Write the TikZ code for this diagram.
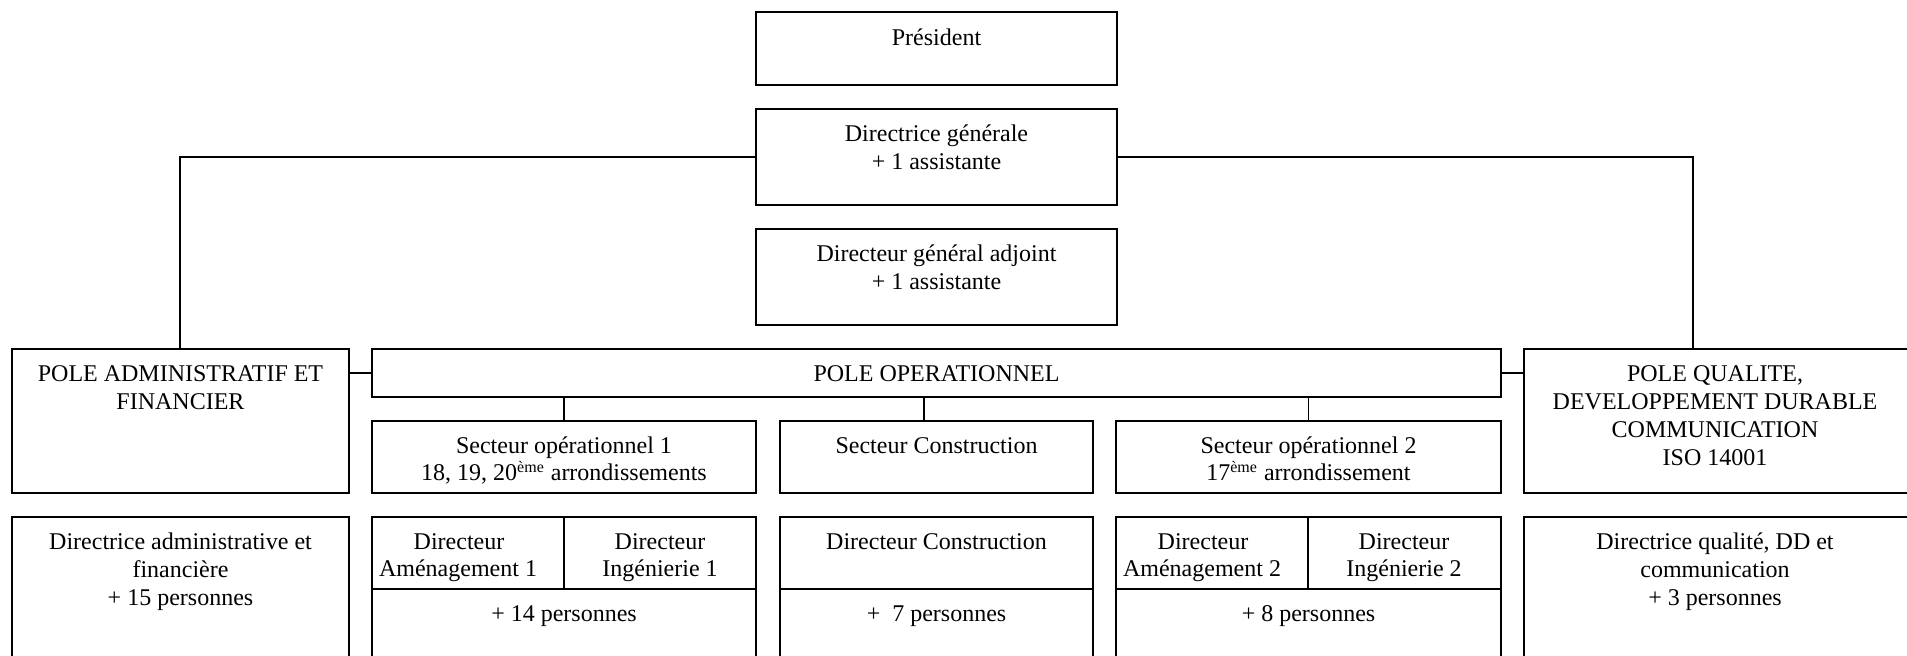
\documentclass[tikz,border=0pt]{standalone}
\usepackage{fontspec}
\setmainfont{Liberation Serif}
\newcommand\boxnode[5]{\node[box, minimum width={(#4-#2)*0.5pt}, minimum height={(#5-#3)*0.5pt}] (#1) at ({(#2+#4)/2},{(#3+#5)/2}) {};}
\newcommand\tline[4]{\node[txt] (#1) at (#2,#3) {#4};}
\begin{document}
\begin{tikzpicture}[x=0.5pt,y=-0.5pt,
  box/.style={draw, line width=1pt, inner sep=0pt, outer sep=0pt, rectangle},
  link/.style={draw, line width=0.75pt},
  txt/.style={anchor=base, inner sep=0pt, outer sep=0pt, font=\fontsize{12}{13.8}\selectfont}]
\clip (0,0) rectangle (1907,656);
% top boxes
\boxnode{pres}{756}{12}{1117}{85}
\boxnode{dg}{756}{109}{1117}{205}
\boxnode{dga}{756}{229}{1117}{325}
% poles
\boxnode{admin}{12}{349}{349}{493}
\boxnode{oper}{372}{349}{1501}{397}
\boxnode{qual}{1524}{349}{1930}{493}
% sectors
\boxnode{s1}{372}{421}{756}{493}
\boxnode{sc}{780}{421}{1093}{493}
\boxnode{s2}{1116}{421}{1501}{493}
% bottom row
\boxnode{badmin}{12}{517}{349}{690}
\boxnode{b1a}{372}{517}{564}{589}
\boxnode{b1b}{564}{517}{756}{589}
\boxnode{b1c}{372}{589}{756}{690}
\boxnode{bca}{780}{517}{1093}{589}
\boxnode{bcb}{780}{589}{1093}{690}
\boxnode{b2a}{1116}{517}{1308}{589}
\boxnode{b2b}{1308}{517}{1501}{589}
\boxnode{b2c}{1116}{589}{1501}{690}
\boxnode{bq}{1524}{517}{1930}{690}
% connectors
\coordinate (admintop) at (180,349);
\coordinate (qualtop) at (1693,349);
\coordinate (sctop) at (924,421);
\draw[link] (dg.west) -| (admintop);
\draw[link] (dg.east) -| (qualtop);
\draw[link] (oper.west) -- (oper.west -| admin.east);
\draw[link] (oper.east) -- (oper.east -| qual.west);
\draw[link] (s1.north) -- (s1.north |- oper.south);
\draw[link] (sctop) -- (sctop |- oper.south);
\draw[link] (s2.north) -- (s2.north |- oper.south);
% texts
\tline{tpres}{936.5}{46}{Président}
\tline{tdg1}{936.5}{142}{Directrice générale}
\tline{tdg2}{936.5}{170}{+ 1 assistante}
\tline{tdga1}{936.5}{262}{Directeur général adjoint}
\tline{tdga2}{936.5}{290}{+ 1 assistante}
\tline{tadm1}{180.5}{382}{POLE ADMINISTRATIF ET}
\tline{tadm2}{180.5}{410}{FINANCIER}
\tline{toper}{936.5}{382}{POLE OPERATIONNEL}
\tline{tq1}{1715}{382}{POLE QUALITE,}
\tline{tq2}{1715}{410}{DEVELOPPEMENT DURABLE}
\tline{tq3}{1715}{438}{COMMUNICATION}
\tline{tq4}{1715}{466}{ISO 14001}
\tline{ts11}{564}{454}{Secteur opérationnel 1}
\tline{ts12}{564}{481}{18, 19, 20\textsuperscript{ème} arrondissements}
\tline{tsc}{936.5}{454}{Secteur Construction}
\tline{ts21}{1308.5}{454}{Secteur opérationnel 2}
\tline{ts22}{1308.5}{481}{17\textsuperscript{ème} arrondissement}
\tline{tba1}{180.5}{550}{Directrice administrative et}
\tline{tba2}{180.5}{578}{financière}
\tline{tba3}{180.5}{606}{+ 15 personnes}
\tline{tb1a}{459}{550}{Directeur}
\begin{scope}
\clip (b1a.south west) rectangle (b1a.north east);
\node[txt, anchor=base east] (tb1a2) at (537,577) {Aménagement 1};
\end{scope}
\tline{tb1b1}{660}{550}{Directeur}
\tline{tb1b2}{660}{577}{Ingénierie 1}
\tline{tb1c}{564}{622}{+ 14 personnes}
\tline{tbc1}{936.5}{550}{Directeur Construction}
\tline{tbc2}{936.5}{622}{+\ \ 7 personnes}
\tline{tb2a}{1203}{550}{Directeur}
\begin{scope}
\clip (b2a.south west) rectangle (b2a.north east);
\node[txt, anchor=base east] (tb2a2) at (1281,577) {Aménagement 2};
\end{scope}
\tline{tb2b1}{1404}{550}{Directeur}
\tline{tb2b2}{1404}{577}{Ingénierie 2}
\tline{tb2c}{1308.5}{622}{+ 8 personnes}
\tline{tbq1}{1715}{550}{Directrice qualité, DD et}
\tline{tbq2}{1715}{578}{communication}
\tline{tbq3}{1715}{606}{+ 3 personnes}
\end{tikzpicture}
\end{document}
